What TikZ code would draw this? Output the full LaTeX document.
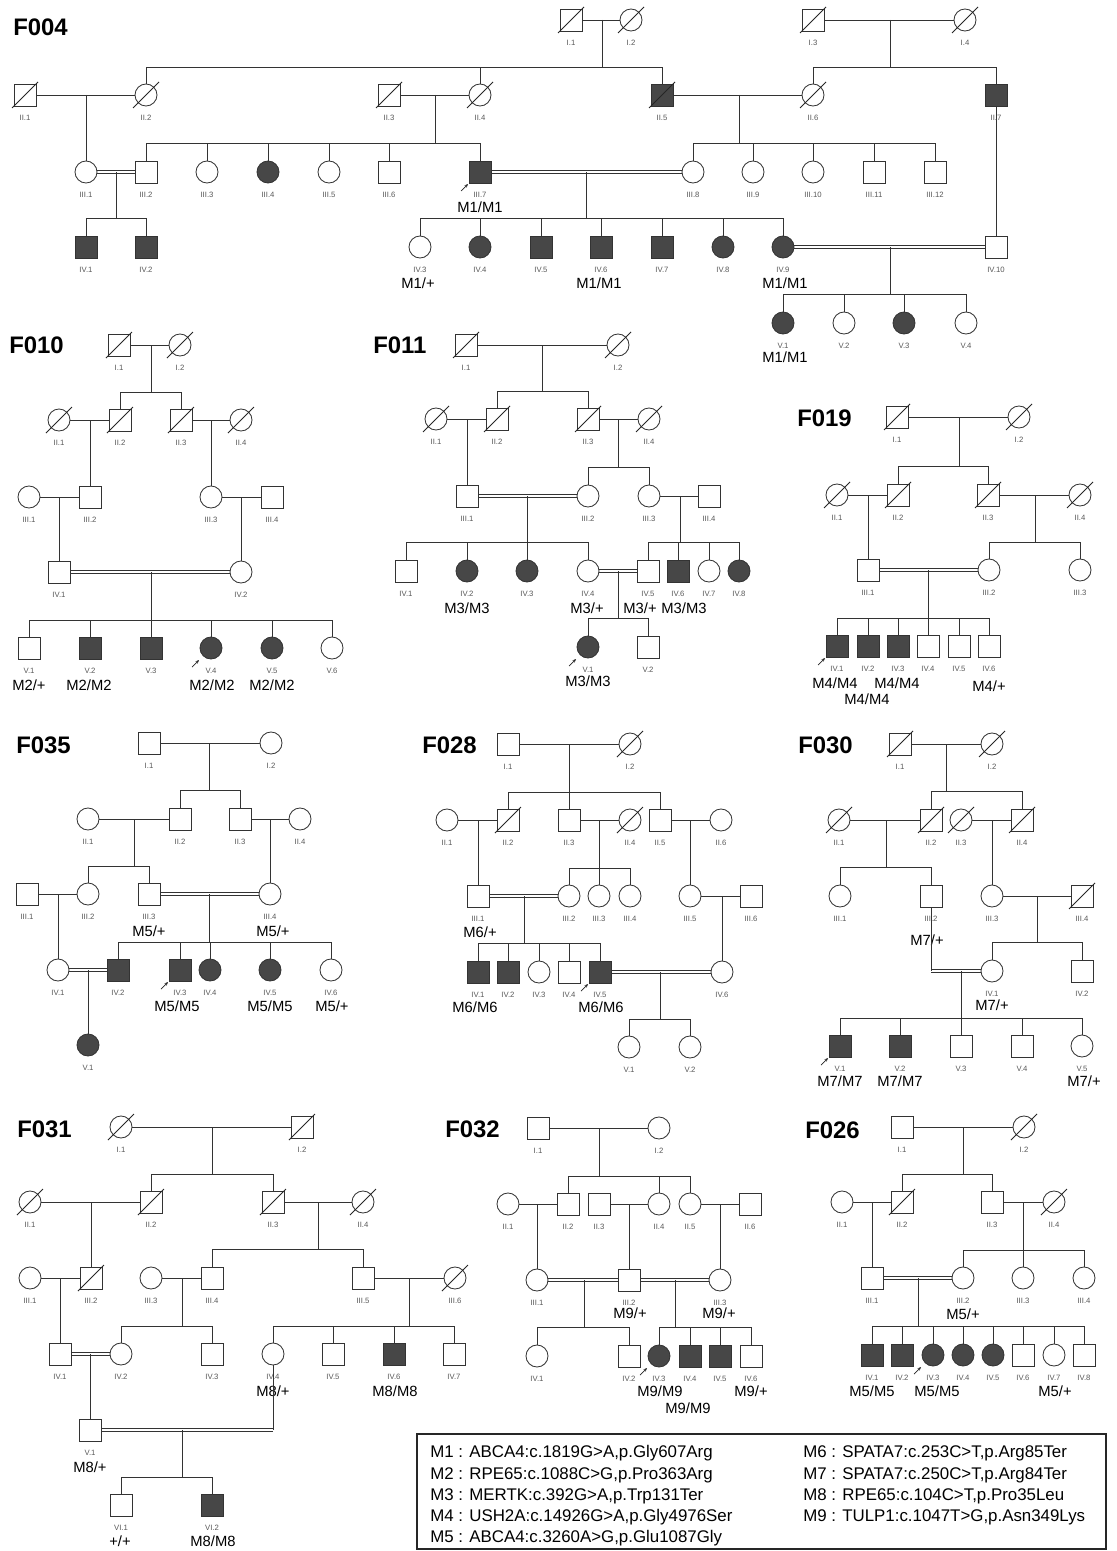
\documentclass[tikz,border=0pt]{standalone}
\usepackage{fontspec}
\setmainfont{Liberation Sans}
\usetikzlibrary{arrows.meta}
\tikzset{
  male/.style={draw=black!80, line width=0.6pt, rectangle, minimum size=0.55cm, inner sep=0pt, fill=white},
  female/.style={draw=black!80, line width=0.6pt, circle, minimum size=0.55cm, inner sep=0pt, fill=white},
  aff/.style={fill=black!72},
  rel/.style={draw=black!80, line width=0.6pt},
  dbl/.style={draw=black!80, line width=0.5pt},
  slash/.style={draw=black!85, line width=0.6pt},
  proband/.style={draw=black!85, line width=0.5pt, -{Stealth[length=2.6pt,width=2.2pt]}},
  geno/.style={font=\fontsize{10.5}{12}\selectfont, inner sep=0pt},
  fam/.style={font=\fontsize{17}{20}\selectfont\bfseries, inner sep=0pt, anchor=west},
  leg/.style={font=\fontsize{12}{14}\selectfont, inner sep=0pt, anchor=west},
  every label/.style={font=\fontsize{5.5}{6}\selectfont, text=black!65, inner sep=0pt}
}
\begin{document}
\begin{tikzpicture}[x=0.025cm, y=-0.025cm, label distance=5.8pt]
    \fill[white] (0,0) rectangle (1117,1551);
    \useasboundingbox (0,0) rectangle (1117,1551);

    % F004
    \node[fam] (t4) at (13,27) {F004};
    \node[male, label=below:I.1] (f4-1-1) at (571,20) {};
    \node[female, label=below:I.2] (f4-1-2) at (631,20) {};
    \node[male, label=below:I.3] (f4-1-3) at (813,20) {};
    \node[female, label=below:I.4] (f4-1-4) at (965,20) {};
    \node[male, label=below:II.1] (f4-2-1) at (25,95) {};
    \node[female, label=below:II.2] (f4-2-2) at (146,95) {};
    \node[male, label=below:II.3] (f4-2-3) at (389,95) {};
    \node[female, label=below:II.4] (f4-2-4) at (480,95) {};
    \node[male, aff, label=below:II.5] (f4-2-5) at (662,95) {};
    \node[female, label=below:II.6] (f4-2-6) at (813,95) {};
    \node[male, aff, label=below:II.7] (f4-2-7) at (996,95) {};
    \node[female, label=below:III.1] (f4-3-1) at (86,172) {};
    \node[male, label=below:III.2] (f4-3-2) at (146,172) {};
    \node[female, label=below:III.3] (f4-3-3) at (207,172) {};
    \node[female, aff, label=below:III.4] (f4-3-4) at (268,172) {};
    \node[female, label=below:III.5] (f4-3-5) at (329,172) {};
    \node[male, label=below:III.6] (f4-3-6) at (389,172) {};
    \node[male, aff, label=below:III.7] (f4-3-7) at (480,172) {};
    \node[female, label=below:III.8] (f4-3-8) at (693,172) {};
    \node[female, label=below:III.9] (f4-3-9) at (753,172) {};
    \node[female, label=below:III.10] (f4-3-10) at (813,172) {};
    \node[male, label=below:III.11] (f4-3-11) at (874,172) {};
    \node[male, label=below:III.12] (f4-3-12) at (935,172) {};
    \node[male, aff, label=below:IV.1] (f4-4-1) at (86,247) {};
    \node[male, aff, label=below:IV.2] (f4-4-2) at (146,247) {};
    \node[female, label=below:IV.3] (f4-4-3) at (420,247) {};
    \node[female, aff, label=below:IV.4] (f4-4-4) at (480,247) {};
    \node[male, aff, label=below:IV.5] (f4-4-5) at (541,247) {};
    \node[male, aff, label=below:IV.6] (f4-4-6) at (601,247) {};
    \node[male, aff, label=below:IV.7] (f4-4-7) at (662,247) {};
    \node[female, aff, label=below:IV.8] (f4-4-8) at (723,247) {};
    \node[female, aff, label=below:IV.9] (f4-4-9) at (783,247) {};
    \node[male, label=below:IV.10] (f4-4-10) at (996,247) {};
    \node[female, aff, label=below:V.1] (f4-5-1) at (783,323) {};
    \node[female, label=below:V.2] (f4-5-2) at (844,323) {};
    \node[female, aff, label=below:V.3] (f4-5-3) at (904,323) {};
    \node[female, label=below:V.4] (f4-5-4) at (966,323) {};
    \node[geno] (g4a) at (480,207) {M1/M1};
    \node[geno] (g4b) at (418,283) {M1/+};
    \node[geno] (g4c) at (599,283) {M1/M1};
    \node[geno] (g4d) at (785,283) {M1/M1};
    \node[geno] (g4e) at (785,357) {M1/M1};
    \coordinate (f4u1) at (602,20);  \coordinate (f4s1) at (602,67);
    \coordinate (f4u2) at (890,20);  \coordinate (f4s2) at (890,67);
    \coordinate (f4u3) at (86,95);
    \coordinate (f4u4) at (435,95);  \coordinate (f4s4) at (435,143);
    \coordinate (f4u5) at (739,95);  \coordinate (f4s5) at (739,143);
    \coordinate (f4u6) at (116,172); \coordinate (f4s6) at (116,218);
    \coordinate (f4u7) at (586,172); \coordinate (f4s7) at (586,218);
    \coordinate (f4u8) at (890,247); \coordinate (f4s8) at (890,294);
    \draw[rel] (f4-1-1) -- (f4-1-2);
    \draw[rel] (f4-1-3) -- (f4-1-4);
    \draw[rel] (f4-2-1) -- (f4-2-2);
    \draw[rel] (f4-2-3) -- (f4-2-4);
    \draw[rel] (f4-2-5) -- (f4-2-6);
    \foreach \o in {-0.9pt,0.9pt} {
        \draw[dbl] ([yshift=\o]f4-3-1.east) -- ([yshift=\o]f4-3-2.west);
        \draw[dbl] ([yshift=\o]f4-3-7.east) -- ([yshift=\o]f4-3-8.west);
        \draw[dbl] ([yshift=\o]f4-4-9.east) -- ([yshift=\o]f4-4-10.west);
    }
    \draw[rel] (f4u1) -- (f4s1);
    \draw[rel] (f4u2) -- (f4s2);
    \draw[rel] (f4u3) -- (f4-3-1);
    \draw[rel] (f4u4) -- (f4s4);
    \draw[rel] (f4u5) -- (f4s5);
    \draw[rel] (f4u6) -- (f4s6);
    \draw[rel] (f4u7) -- (f4s7);
    \draw[rel] (f4u8) -- (f4s8);
    \draw[rel] (f4-2-7) -- (f4-4-10);
    \foreach \c in {f4-2-2,f4-2-4,f4-2-5} \draw[rel] (\c.north) |- (f4s1);
    \foreach \c in {f4-2-6,f4-2-7} \draw[rel] (\c.north) |- (f4s2);
    \foreach \c in {f4-3-2,f4-3-3,f4-3-4,f4-3-5,f4-3-6,f4-3-7} \draw[rel] (\c.north) |- (f4s4);
    \foreach \c in {f4-3-8,f4-3-9,f4-3-10,f4-3-11,f4-3-12} \draw[rel] (\c.north) |- (f4s5);
    \foreach \c in {f4-4-1,f4-4-2} \draw[rel] (\c.north) |- (f4s6);
    \foreach \c in {f4-4-3,f4-4-4,f4-4-5,f4-4-6,f4-4-7,f4-4-8,f4-4-9} \draw[rel] (\c.north) |- (f4s7);
    \foreach \c in {f4-5-1,f4-5-2,f4-5-3,f4-5-4} \draw[rel] (\c.north) |- (f4s8);

    % F010
    \node[fam] (t10) at (9,345) {F010};
    \node[male, label=below:I.1] (f10-1-1) at (119,345) {};
    \node[female, label=below:I.2] (f10-1-2) at (180,345) {};
    \node[female, label=below:II.1] (f10-2-1) at (59,420) {};
    \node[male, label=below:II.2] (f10-2-2) at (120,420) {};
    \node[male, label=below:II.3] (f10-2-3) at (181,420) {};
    \node[female, label=below:II.4] (f10-2-4) at (241,420) {};
    \node[female, label=below:III.1] (f10-3-1) at (29,497) {};
    \node[male, label=below:III.2] (f10-3-2) at (90,497) {};
    \node[female, label=below:III.3] (f10-3-3) at (211,497) {};
    \node[male, label=below:III.4] (f10-3-4) at (272,497) {};
    \node[male, label=below:IV.1] (f10-4-1) at (59,572) {};
    \node[female, label=below:IV.2] (f10-4-2) at (241,572) {};
    \node[male, label=below:V.1] (f10-5-1) at (29,648) {};
    \node[male, aff, label=below:V.2] (f10-5-2) at (90,648) {};
    \node[male, aff, label=below:V.3] (f10-5-3) at (151,648) {};
    \node[female, aff, label=below:V.4] (f10-5-4) at (211,648) {};
    \node[female, aff, label=below:V.5] (f10-5-5) at (272,648) {};
    \node[female, label=below:V.6] (f10-5-6) at (332,648) {};
    \node[geno] (g10a) at (29,685) {M2/+};
    \node[geno] (g10b) at (89,685) {M2/M2};
    \node[geno] (g10c) at (212,685) {M2/M2};
    \node[geno] (g10d) at (272,685) {M2/M2};
    \coordinate (f10u1) at (151,345); \coordinate (f10s1) at (151,392);
    \coordinate (f10u2) at (90,420);
    \coordinate (f10u3) at (211,420);
    \coordinate (f10u4) at (59,497);
    \coordinate (f10u5) at (241,497);
    \coordinate (f10u6) at (151,572); \coordinate (f10s6) at (151,620);
    \draw[rel] (f10-1-1) -- (f10-1-2);
    \draw[rel] (f10-2-1) -- (f10-2-2);
    \draw[rel] (f10-2-3) -- (f10-2-4);
    \draw[rel] (f10-3-1) -- (f10-3-2);
    \draw[rel] (f10-3-3) -- (f10-3-4);
    \foreach \o in {-0.9pt,0.9pt}
        \draw[dbl] ([yshift=\o]f10-4-1.east) -- ([yshift=\o]f10-4-2.west);
    \draw[rel] (f10u1) -- (f10s1);
    \draw[rel] (f10u2) -- (f10-3-2);
    \draw[rel] (f10u3) -- (f10-3-3);
    \draw[rel] (f10u4) -- (f10-4-1);
    \draw[rel] (f10u5) -- (f10-4-2);
    \draw[rel] (f10u6) -- (f10s6);
    \foreach \c in {f10-2-2,f10-2-3} \draw[rel] (\c.north) |- (f10s1);
    \foreach \c in {f10-5-1,f10-5-2,f10-5-3,f10-5-4,f10-5-5,f10-5-6} \draw[rel] (\c.north) |- (f10s6);

    % F011
    \node[fam] (t11) at (373,345) {F011};
    \node[male, label=below:I.1] (f11-1-1) at (466,345) {};
    \node[female, label=below:I.2] (f11-1-2) at (618,345) {};
    \node[female, label=below:II.1] (f11-2-1) at (436,419) {};
    \node[male, label=below:II.2] (f11-2-2) at (497,419) {};
    \node[male, label=below:II.3] (f11-2-3) at (588,419) {};
    \node[female, label=below:II.4] (f11-2-4) at (649,419) {};
    \node[male, label=below:III.1] (f11-3-1) at (467,496) {};
    \node[female, label=below:III.2] (f11-3-2) at (588,496) {};
    \node[female, label=below:III.3] (f11-3-3) at (649,496) {};
    \node[male, label=below:III.4] (f11-3-4) at (709,496) {};
    \node[male, label=below:IV.1] (f11-4-1) at (406,571) {};
    \node[female, aff, label=below:IV.2] (f11-4-2) at (467,571) {};
    \node[female, aff, label=below:IV.3] (f11-4-3) at (527,571) {};
    \node[female, label=below:IV.4] (f11-4-4) at (588,571) {};
    \node[male, label=below:IV.5] (f11-4-5) at (648,571) {};
    \node[male, aff, label=below:IV.6] (f11-4-6) at (678,571) {};
    \node[female, label=below:IV.7] (f11-4-7) at (709,571) {};
    \node[female, aff, label=below:IV.8] (f11-4-8) at (739,571) {};
    \node[female, aff, label=below:V.1] (f11-5-1) at (588,647) {};
    \node[male, label=below:V.2] (f11-5-2) at (648,647) {};
    \node[geno] (g11a) at (467,608) {M3/M3};
    \node[geno] (g11b) at (587,608) {M3/+};
    \node[geno] (g11c) at (640,608) {M3/+};
    \node[geno] (g11d) at (684,608) {M3/M3};
    \node[geno] (g11e) at (588,681) {M3/M3};
    \coordinate (f11u1) at (542,345); \coordinate (f11s1) at (542,391);
    \coordinate (f11u2) at (467,419);
    \coordinate (f11u3) at (618,419); \coordinate (f11s3) at (618,467);
    \coordinate (f11u4) at (527,496); \coordinate (f11s4) at (527,542);
    \coordinate (f11u5) at (680,496); \coordinate (f11s5) at (680,542);
    \coordinate (f11u6) at (618,571); \coordinate (f11s6) at (618,618);
    \draw[rel] (f11-1-1) -- (f11-1-2);
    \draw[rel] (f11-2-1) -- (f11-2-2);
    \draw[rel] (f11-2-3) -- (f11-2-4);
    \draw[rel] (f11-3-3) -- (f11-3-4);
    \foreach \o in {-0.9pt,0.9pt} {
        \draw[dbl] ([yshift=\o]f11-3-1.east) -- ([yshift=\o]f11-3-2.west);
        \draw[dbl] ([yshift=\o]f11-4-4.east) -- ([yshift=\o]f11-4-5.west);
    }
    \draw[rel] (f11u1) -- (f11s1);
    \draw[rel] (f11u2) -- (f11-3-1);
    \draw[rel] (f11u3) -- (f11s3);
    \draw[rel] (f11u4) -- (f11s4);
    \draw[rel] (f11u5) -- (f11s5);
    \draw[rel] (f11u6) -- (f11s6);
    \foreach \c in {f11-2-2,f11-2-3} \draw[rel] (\c.north) |- (f11s1);
    \foreach \c in {f11-3-2,f11-3-3} \draw[rel] (\c.north) |- (f11s3);
    \foreach \c in {f11-4-1,f11-4-2,f11-4-3,f11-4-4} \draw[rel] (\c.north) |- (f11s4);
    \foreach \c in {f11-4-5,f11-4-6,f11-4-7,f11-4-8} \draw[rel] (\c.north) |- (f11s5);
    \foreach \c in {f11-5-1,f11-5-2} \draw[rel] (\c.north) |- (f11s6);

    % F019
    \node[fam] (t19) at (797,418) {F019};
    \node[male, label=below:I.1] (f19-1-1) at (897,417) {};
    \node[female, label=below:I.2] (f19-1-2) at (1019,417) {};
    \node[female, label=below:II.1] (f19-2-1) at (837,495) {};
    \node[male, label=below:II.2] (f19-2-2) at (898,495) {};
    \node[male, label=below:II.3] (f19-2-3) at (988,495) {};
    \node[female, label=below:II.4] (f19-2-4) at (1080,495) {};
    \node[male, label=below:III.1] (f19-3-1) at (868,570) {};
    \node[female, label=below:III.2] (f19-3-2) at (989,570) {};
    \node[female, label=below:III.3] (f19-3-3) at (1080,570) {};
    \node[male, aff, label=below:IV.1] (f19-4-1) at (837,646) {};
    \node[male, aff, label=below:IV.2] (f19-4-2) at (868,646) {};
    \node[male, aff, label=below:IV.3] (f19-4-3) at (898,646) {};
    \node[male, label=below:IV.4] (f19-4-4) at (928,646) {};
    \node[male, label=below:IV.5] (f19-4-5) at (959,646) {};
    \node[male, label=below:IV.6] (f19-4-6) at (989,646) {};
    \node[geno] (g19a) at (835,683) {M4/M4};
    \node[geno] (g19b) at (867,699) {M4/M4};
    \node[geno] (g19c) at (897,683) {M4/M4};
    \node[geno] (g19d) at (989,686) {M4/+};
    \coordinate (f19u1) at (959,417); \coordinate (f19s1) at (959,466);
    \coordinate (f19u2) at (868,495);
    \coordinate (f19u3) at (1035,495); \coordinate (f19s3) at (1035,542);
    \coordinate (f19u4) at (928,570); \coordinate (f19s4) at (928,618);
    \draw[rel] (f19-1-1) -- (f19-1-2);
    \draw[rel] (f19-2-1) -- (f19-2-2);
    \draw[rel] (f19-2-3) -- (f19-2-4);
    \foreach \o in {-0.9pt,0.9pt}
        \draw[dbl] ([yshift=\o]f19-3-1.east) -- ([yshift=\o]f19-3-2.west);
    \draw[rel] (f19u1) -- (f19s1);
    \draw[rel] (f19u2) -- (f19-3-1);
    \draw[rel] (f19u3) -- (f19s3);
    \draw[rel] (f19u4) -- (f19s4);
    \foreach \c in {f19-2-2,f19-2-3} \draw[rel] (\c.north) |- (f19s1);
    \foreach \c in {f19-3-2,f19-3-3} \draw[rel] (\c.north) |- (f19s3);
    \foreach \c in {f19-4-1,f19-4-2,f19-4-3,f19-4-4,f19-4-5,f19-4-6} \draw[rel] (\c.north) |- (f19s4);

    % F035
    \node[fam] (t35) at (16,745) {F035};
    \node[male, label=below:I.1] (f35-1-1) at (149,743) {};
    \node[female, label=below:I.2] (f35-1-2) at (271,743) {};
    \node[female, label=below:II.1] (f35-2-1) at (88,819) {};
    \node[male, label=below:II.2] (f35-2-2) at (180,819) {};
    \node[male, label=below:II.3] (f35-2-3) at (240,819) {};
    \node[female, label=below:II.4] (f35-2-4) at (300,819) {};
    \node[male, label=below:III.1] (f35-3-1) at (27,894) {};
    \node[female, label=below:III.2] (f35-3-2) at (88,894) {};
    \node[male, label=below:III.3] (f35-3-3) at (149,894) {};
    \node[female, label=below:III.4] (f35-3-4) at (270,894) {};
    \node[female, label=below:IV.1] (f35-4-1) at (58,970) {};
    \node[male, aff, label=below:IV.2] (f35-4-2) at (118,970) {};
    \node[male, aff, label=below:IV.3] (f35-4-3) at (180,970) {};
    \node[female, aff, label=below:IV.4] (f35-4-4) at (210,970) {};
    \node[female, aff, label=below:IV.5] (f35-4-5) at (270,970) {};
    \node[female, label=below:IV.6] (f35-4-6) at (331,970) {};
    \node[female, aff, label=below:V.1] (f35-5-1) at (88,1045) {};
    \node[geno] (g35a) at (149,931) {M5/+};
    \node[geno] (g35b) at (273,931) {M5/+};
    \node[geno] (g35c) at (177,1006) {M5/M5};
    \node[geno] (g35d) at (270,1006) {M5/M5};
    \node[geno] (g35e) at (332,1006) {M5/+};
    \coordinate (f35u1) at (209,743); \coordinate (f35s1) at (209,790);
    \coordinate (f35u2) at (134,819); \coordinate (f35s2) at (134,866);
    \coordinate (f35u3) at (270,819);
    \coordinate (f35u4) at (58,894);
    \coordinate (f35u5) at (209,894); \coordinate (f35s5) at (209,942);
    \coordinate (f35u6) at (88,970);
    \draw[rel] (f35-1-1) -- (f35-1-2);
    \draw[rel] (f35-2-1) -- (f35-2-2);
    \draw[rel] (f35-2-3) -- (f35-2-4);
    \draw[rel] (f35-3-1) -- (f35-3-2);
    \foreach \o in {-0.9pt,0.9pt} {
        \draw[dbl] ([yshift=\o]f35-3-3.east) -- ([yshift=\o]f35-3-4.west);
        \draw[dbl] ([yshift=\o]f35-4-1.east) -- ([yshift=\o]f35-4-2.west);
    }
    \draw[rel] (f35u1) -- (f35s1);
    \draw[rel] (f35u2) -- (f35s2);
    \draw[rel] (f35u3) -- (f35-3-4);
    \draw[rel] (f35u4) -- (f35-4-1);
    \draw[rel] (f35u5) -- (f35s5);
    \draw[rel] (f35u6) -- (f35-5-1);
    \foreach \c in {f35-2-2,f35-2-3} \draw[rel] (\c.north) |- (f35s1);
    \foreach \c in {f35-3-2,f35-3-3} \draw[rel] (\c.north) |- (f35s2);
    \foreach \c in {f35-4-2,f35-4-3,f35-4-4,f35-4-5,f35-4-6} \draw[rel] (\c.north) |- (f35s5);

    % F028
    \node[fam] (t28) at (422,745) {F028};
    \node[male, label=below:I.1] (f28-1-1) at (508,744) {};
    \node[female, label=below:I.2] (f28-1-2) at (630,744) {};
    \node[female, label=below:II.1] (f28-2-1) at (447,820) {};
    \node[male, label=below:II.2] (f28-2-2) at (508,820) {};
    \node[male, label=below:II.3] (f28-2-3) at (569,820) {};
    \node[female, label=below:II.4] (f28-2-4) at (630,820) {};
    \node[male, label=below:II.5] (f28-2-5) at (660,820) {};
    \node[female, label=below:II.6] (f28-2-6) at (721,820) {};
    \node[male, label=below:III.1] (f28-3-1) at (478,896) {};
    \node[female, label=below:III.2] (f28-3-2) at (569,896) {};
    \node[female, label=below:III.3] (f28-3-3) at (599,896) {};
    \node[female, label=below:III.4] (f28-3-4) at (630,896) {};
    \node[female, label=below:III.5] (f28-3-5) at (690,896) {};
    \node[male, label=below:III.6] (f28-3-6) at (751,896) {};
    \node[male, aff, label=below:IV.1] (f28-4-1) at (478,972) {};
    \node[male, aff, label=below:IV.2] (f28-4-2) at (508,972) {};
    \node[female, label=below:IV.3] (f28-4-3) at (539,972) {};
    \node[male, label=below:IV.4] (f28-4-4) at (569,972) {};
    \node[male, aff, label=below:IV.5] (f28-4-5) at (600,972) {};
    \node[female, label=below:IV.6] (f28-4-6) at (722,972) {};
    \node[female, label=below:V.1] (f28-5-1) at (629,1047) {};
    \node[female, label=below:V.2] (f28-5-2) at (690,1047) {};
    \node[geno] (g28a) at (480,932) {M6/+};
    \node[geno] (g28b) at (475,1007) {M6/M6};
    \node[geno] (g28c) at (601,1007) {M6/M6};
    \coordinate (f28u1) at (569,744); \coordinate (f28s1) at (569,792);
    \coordinate (f28u2) at (478,820);
    \coordinate (f28u3) at (599,820); \coordinate (f28s3) at (599,868);
    \coordinate (f28u4) at (690,820);
    \coordinate (f28u5) at (524,896); \coordinate (f28s5) at (524,943);
    \coordinate (f28u6) at (722,896);
    \coordinate (f28u7) at (660,972); \coordinate (f28s7) at (660,1019);
    \draw[rel] (f28-1-1) -- (f28-1-2);
    \draw[rel] (f28-2-1) -- (f28-2-2);
    \draw[rel] (f28-2-3) -- (f28-2-4);
    \draw[rel] (f28-2-5) -- (f28-2-6);
    \draw[rel] (f28-3-5) -- (f28-3-6);
    \foreach \o in {-0.9pt,0.9pt} {
        \draw[dbl] ([yshift=\o]f28-3-1.east) -- ([yshift=\o]f28-3-2.west);
        \draw[dbl] ([yshift=\o]f28-4-5.east) -- ([yshift=\o]f28-4-6.west);
    }
    \draw[rel] (f28u1) -- (f28s1);
    \draw[rel] (f28u2) -- (f28-3-1);
    \draw[rel] (f28u3) -- (f28s3);
    \draw[rel] (f28u4) -- (f28-3-5);
    \draw[rel] (f28u5) -- (f28s5);
    \draw[rel] (f28u6) -- (f28-4-6);
    \draw[rel] (f28u7) -- (f28s7);
    \foreach \c in {f28-2-2,f28-2-3,f28-2-5} \draw[rel] (\c.north) |- (f28s1);
    \foreach \c in {f28-3-2,f28-3-3,f28-3-4} \draw[rel] (\c.north) |- (f28s3);
    \foreach \c in {f28-4-1,f28-4-2,f28-4-3,f28-4-4,f28-4-5} \draw[rel] (\c.north) |- (f28s5);
    \foreach \c in {f28-5-1,f28-5-2} \draw[rel] (\c.north) |- (f28s7);

    % F030
    \node[fam] (t30) at (798,745) {F030};
    \node[male, label=below:I.1] (f30-1-1) at (900,744) {};
    \node[female, label=below:I.2] (f30-1-2) at (992,744) {};
    \node[female, label=below:II.1] (f30-2-1) at (839,820) {};
    \node[male, label=below:II.2] (f30-2-2) at (931,820) {};
    \node[female, label=below:II.3] (f30-2-3) at (961,820) {};
    \node[male, label=below:II.4] (f30-2-4) at (1022,820) {};
    \node[female, label=below:III.1] (f30-3-1) at (840,896) {};
    \node[male, label=below:III.2] (f30-3-2) at (931,896) {};
    \node[female, label=below:III.3] (f30-3-3) at (992,896) {};
    \node[male, label=below:III.4] (f30-3-4) at (1082,896) {};
    \node[female, label=below:IV.1] (f30-4-1) at (992,971) {};
    \node[male, label=below:IV.2] (f30-4-2) at (1082,971) {};
    \node[male, aff, label=below:V.1] (f30-5-1) at (840,1046) {};
    \node[male, aff, label=below:V.2] (f30-5-2) at (900,1046) {};
    \node[male, label=below:V.3] (f30-5-3) at (961,1046) {};
    \node[male, label=below:V.4] (f30-5-4) at (1022,1046) {};
    \node[female, label=below:V.5] (f30-5-5) at (1082,1046) {};
    \node[geno] (g30a) at (927,940) {M7/+};
    \node[geno] (g30b) at (992,1005) {M7/+};
    \node[geno] (g30c) at (840,1081) {M7/M7};
    \node[geno] (g30d) at (900,1081) {M7/M7};
    \node[geno] (g30e) at (1084,1081) {M7/+};
    \coordinate (f30u1) at (946,744); \coordinate (f30s1) at (946,791);
    \coordinate (f30u2) at (886,820); \coordinate (f30s2) at (886,867);
    \coordinate (f30u3) at (992,820);
    \coordinate (f30u4) at (1037,896); \coordinate (f30s4) at (1037,942);
    \coordinate (f30u5) at (961,971); \coordinate (f30s5) at (961,1018);
    \coordinate (f30k) at (931,971);
    \draw[rel] (f30-1-1) -- (f30-1-2);
    \draw[rel] (f30-2-1) -- (f30-2-2);
    \draw[rel] (f30-2-3) -- (f30-2-4);
    \draw[rel] (f30-3-3) -- (f30-3-4);
    \draw[rel] (f30-3-2.south) -- (f30k);
    \foreach \o in {-0.9pt,0.9pt}
        \draw[dbl] ([yshift=\o]f30k) -- ([yshift=\o]f30-4-1.west);
    \draw[rel] (f30u1) -- (f30s1);
    \draw[rel] (f30u2) -- (f30s2);
    \draw[rel] (f30u3) -- (f30-3-3);
    \draw[rel] (f30u4) -- (f30s4);
    \draw[rel] (f30u5) -- (f30s5);
    \foreach \c in {f30-2-2,f30-2-4} \draw[rel] (\c.north) |- (f30s1);
    \foreach \c in {f30-3-1,f30-3-2} \draw[rel] (\c.north) |- (f30s2);
    \foreach \c in {f30-4-1,f30-4-2} \draw[rel] (\c.north) |- (f30s4);
    \foreach \c in {f30-5-1,f30-5-2,f30-5-3,f30-5-4,f30-5-5} \draw[rel] (\c.north) |- (f30s5);

    % F031
    \node[fam] (t31) at (17,1129) {F031};
    \node[female, label=below:I.1] (f31-1-1) at (121,1127) {};
    \node[male, label=below:I.2] (f31-1-2) at (302,1127) {};
    \node[female, label=below:II.1] (f31-2-1) at (30,1202) {};
    \node[male, label=below:II.2] (f31-2-2) at (151,1202) {};
    \node[male, label=below:II.3] (f31-2-3) at (273,1202) {};
    \node[female, label=below:II.4] (f31-2-4) at (363,1202) {};
    \node[female, label=below:III.1] (f31-3-1) at (30,1278) {};
    \node[male, label=below:III.2] (f31-3-2) at (91,1278) {};
    \node[female, label=below:III.3] (f31-3-3) at (151,1278) {};
    \node[male, label=below:III.4] (f31-3-4) at (212,1278) {};
    \node[male, label=below:III.5] (f31-3-5) at (363,1278) {};
    \node[female, label=below:III.6] (f31-3-6) at (455,1278) {};
    \node[male, label=below:IV.1] (f31-4-1) at (60,1354) {};
    \node[female, label=below:IV.2] (f31-4-2) at (121,1354) {};
    \node[male, label=below:IV.3] (f31-4-3) at (212,1354) {};
    \node[female, label=below:IV.4] (f31-4-4) at (273,1354) {};
    \node[male, label=below:IV.5] (f31-4-5) at (333,1354) {};
    \node[male, aff, label=below:IV.6] (f31-4-6) at (394,1354) {};
    \node[male, label=below:IV.7] (f31-4-7) at (454,1354) {};
    \node[male, label=below:V.1] (f31-5-1) at (90,1430) {};
    \node[male, label=below:VI.1] (f31-6-1) at (121,1505) {};
    \node[male, aff, label=below:VI.2] (f31-6-2) at (212,1505) {};
    \node[geno] (g31a) at (273,1391) {M8/+};
    \node[geno] (g31b) at (395,1391) {M8/M8};
    \node[geno] (g31c) at (90,1467) {M8/+};
    \node[geno] (g31d) at (120,1541) {+/+};
    \node[geno] (g31e) at (213,1541) {M8/M8};
    \coordinate (f31u1) at (212,1127); \coordinate (f31s1) at (212,1174);
    \coordinate (f31u2) at (91,1202);
    \coordinate (f31u3) at (318,1202); \coordinate (f31s3) at (318,1249);
    \coordinate (f31u4) at (60,1278);
    \coordinate (f31u5) at (182,1278); \coordinate (f31s5) at (182,1326);
    \coordinate (f31u6) at (409,1278); \coordinate (f31s6) at (409,1326);
    \coordinate (f31u7) at (90,1354);
    \coordinate (f31u8) at (182,1430); \coordinate (f31s8) at (182,1477);
    \coordinate (f31k) at (273,1430);
    \draw[rel] (f31-1-1) -- (f31-1-2);
    \draw[rel] (f31-2-1) -- (f31-2-2);
    \draw[rel] (f31-2-3) -- (f31-2-4);
    \draw[rel] (f31-3-1) -- (f31-3-2);
    \draw[rel] (f31-3-3) -- (f31-3-4);
    \draw[rel] (f31-3-5) -- (f31-3-6);
    \draw[rel] (f31-4-4.south) -- (f31k);
    \foreach \o in {-0.9pt,0.9pt} {
        \draw[dbl] ([yshift=\o]f31-4-1.east) -- ([yshift=\o]f31-4-2.west);
        \draw[dbl] ([yshift=\o]f31-5-1.east) -- ([yshift=\o]f31k);
    }
    \draw[rel] (f31u1) -- (f31s1);
    \draw[rel] (f31u2) -- (f31-3-2);
    \draw[rel] (f31u3) -- (f31s3);
    \draw[rel] (f31u4) -- (f31-4-1);
    \draw[rel] (f31u5) -- (f31s5);
    \draw[rel] (f31u6) -- (f31s6);
    \draw[rel] (f31u7) -- (f31-5-1);
    \draw[rel] (f31u8) -- (f31s8);
    \foreach \c in {f31-2-2,f31-2-3} \draw[rel] (\c.north) |- (f31s1);
    \foreach \c in {f31-3-4,f31-3-5} \draw[rel] (\c.north) |- (f31s3);
    \foreach \c in {f31-4-2,f31-4-3} \draw[rel] (\c.north) |- (f31s5);
    \foreach \c in {f31-4-4,f31-4-5,f31-4-6,f31-4-7} \draw[rel] (\c.north) |- (f31s6);
    \foreach \c in {f31-6-1,f31-6-2} \draw[rel] (\c.north) |- (f31s8);

    % F032
    \node[fam] (t32) at (445,1129) {F032};
    \node[male, label=below:I.1] (f32-1-1) at (538,1128) {};
    \node[female, label=below:I.2] (f32-1-2) at (659,1128) {};
    \node[female, label=below:II.1] (f32-2-1) at (508,1204) {};
    \node[male, label=below:II.2] (f32-2-2) at (568,1204) {};
    \node[male, label=below:II.3] (f32-2-3) at (599,1204) {};
    \node[female, label=below:II.4] (f32-2-4) at (659,1204) {};
    \node[female, label=below:II.5] (f32-2-5) at (690,1204) {};
    \node[male, label=below:II.6] (f32-2-6) at (750,1204) {};
    \node[female, label=below:III.1] (f32-3-1) at (537,1280) {};
    \node[male, label=below:III.2] (f32-3-2) at (629,1280) {};
    \node[female, label=below:III.3] (f32-3-3) at (720,1280) {};
    \node[female, label=below:IV.1] (f32-4-1) at (537,1356) {};
    \node[male, label=below:IV.2] (f32-4-2) at (629,1356) {};
    \node[female, aff, label=below:IV.3] (f32-4-3) at (659,1356) {};
    \node[male, aff, label=below:IV.4] (f32-4-4) at (690,1356) {};
    \node[male, aff, label=below:IV.5] (f32-4-5) at (720,1356) {};
    \node[male, label=below:IV.6] (f32-4-6) at (751,1356) {};
    \node[geno] (g32a) at (630,1313) {M9/+};
    \node[geno] (g32b) at (719,1313) {M9/+};
    \node[geno] (g32c) at (660,1391) {M9/M9};
    \node[geno] (g32d) at (688,1408) {M9/M9};
    \node[geno] (g32e) at (751,1391) {M9/+};
    \coordinate (f32u1) at (599,1128); \coordinate (f32s1) at (599,1176);
    \coordinate (f32u2) at (537,1204);
    \coordinate (f32u3) at (629,1204);
    \coordinate (f32u4) at (720,1204);
    \coordinate (f32u5) at (584,1280); \coordinate (f32s5) at (584,1327);
    \coordinate (f32u6) at (675,1280); \coordinate (f32s6) at (675,1327);
    \draw[rel] (f32-1-1) -- (f32-1-2);
    \draw[rel] (f32-2-1) -- (f32-2-2);
    \draw[rel] (f32-2-3) -- (f32-2-4);
    \draw[rel] (f32-2-5) -- (f32-2-6);
    \foreach \o in {-0.9pt,0.9pt} {
        \draw[dbl] ([yshift=\o]f32-3-1.east) -- ([yshift=\o]f32-3-2.west);
        \draw[dbl] ([yshift=\o]f32-3-2.east) -- ([yshift=\o]f32-3-3.west);
    }
    \draw[rel] (f32u1) -- (f32s1);
    \draw[rel] (f32u2) -- (f32-3-1);
    \draw[rel] (f32u3) -- (f32-3-2);
    \draw[rel] (f32u4) -- (f32-3-3);
    \draw[rel] (f32u5) -- (f32s5);
    \draw[rel] (f32u6) -- (f32s6);
    \foreach \c in {f32-2-2,f32-2-4,f32-2-5} \draw[rel] (\c.north) |- (f32s1);
    \foreach \c in {f32-4-1,f32-4-2} \draw[rel] (\c.north) |- (f32s5);
    \foreach \c in {f32-4-3,f32-4-4,f32-4-5,f32-4-6} \draw[rel] (\c.north) |- (f32s6);

    % F026
    \node[fam] (t26) at (805,1130) {F026};
    \node[male, label=below:I.1] (f26-1-1) at (902,1127) {};
    \node[female, label=below:I.2] (f26-1-2) at (1024,1127) {};
    \node[female, label=below:II.1] (f26-2-1) at (842,1202) {};
    \node[male, label=below:II.2] (f26-2-2) at (902,1202) {};
    \node[male, label=below:II.3] (f26-2-3) at (992,1202) {};
    \node[female, label=below:II.4] (f26-2-4) at (1054,1202) {};
    \node[male, label=below:III.1] (f26-3-1) at (872,1278) {};
    \node[female, label=below:III.2] (f26-3-2) at (963,1278) {};
    \node[female, label=below:III.3] (f26-3-3) at (1023,1278) {};
    \node[female, label=below:III.4] (f26-3-4) at (1084,1278) {};
    \node[male, aff, label=below:IV.1] (f26-4-1) at (872,1355) {};
    \node[male, aff, label=below:IV.2] (f26-4-2) at (902,1355) {};
    \node[female, aff, label=below:IV.3] (f26-4-3) at (933,1355) {};
    \node[female, aff, label=below:IV.4] (f26-4-4) at (963,1355) {};
    \node[female, aff, label=below:IV.5] (f26-4-5) at (993,1355) {};
    \node[male, label=below:IV.6] (f26-4-6) at (1023,1355) {};
    \node[female, label=below:IV.7] (f26-4-7) at (1054,1355) {};
    \node[male, label=below:IV.8] (f26-4-8) at (1084,1355) {};
    \node[geno] (g26a) at (963,1314) {M5/+};
    \node[geno] (g26b) at (872,1391) {M5/M5};
    \node[geno] (g26c) at (937,1391) {M5/M5};
    \node[geno] (g26d) at (1055,1391) {M5/+};
    \coordinate (f26u1) at (963,1127); \coordinate (f26s1) at (963,1174);
    \coordinate (f26u2) at (872,1202);
    \coordinate (f26u3) at (1023,1202); \coordinate (f26s3) at (1023,1250);
    \coordinate (f26u4) at (918,1278); \coordinate (f26s4) at (918,1326);
    \draw[rel] (f26-1-1) -- (f26-1-2);
    \draw[rel] (f26-2-1) -- (f26-2-2);
    \draw[rel] (f26-2-3) -- (f26-2-4);
    \foreach \o in {-0.9pt,0.9pt}
        \draw[dbl] ([yshift=\o]f26-3-1.east) -- ([yshift=\o]f26-3-2.west);
    \draw[rel] (f26u1) -- (f26s1);
    \draw[rel] (f26u2) -- (f26-3-1);
    \draw[rel] (f26u3) -- (f26s3);
    \draw[rel] (f26u4) -- (f26s4);
    \foreach \c in {f26-2-2,f26-2-3} \draw[rel] (\c.north) |- (f26s1);
    \foreach \c in {f26-3-2,f26-3-3,f26-3-4} \draw[rel] (\c.north) |- (f26s3);
    \foreach \c in {f26-4-1,f26-4-2,f26-4-3,f26-4-4,f26-4-5,f26-4-6,f26-4-7,f26-4-8} \draw[rel] (\c.north) |- (f26s4);

    % Deceased and probands
    \foreach \n in {f4-1-1,f4-1-2,f4-1-3,f4-1-4,f4-2-1,f4-2-2,f4-2-3,f4-2-4,f4-2-5,f4-2-6,
                    f10-1-1,f10-1-2,f10-2-1,f10-2-2,f10-2-3,f10-2-4,
                    f11-1-1,f11-1-2,f11-2-1,f11-2-2,f11-2-3,f11-2-4,
                    f19-1-1,f19-1-2,f19-2-1,f19-2-2,f19-2-3,f19-2-4,
                    f28-1-2,f28-2-2,f28-2-4,
                    f30-1-1,f30-1-2,f30-2-1,f30-2-2,f30-2-3,f30-2-4,f30-3-4,
                    f31-1-1,f31-1-2,f31-2-1,f31-2-2,f31-2-3,f31-2-4,f31-3-2,f31-3-6,
                    f26-1-2,f26-2-2,f26-2-4}
        \draw[slash] ([shift={(-13,13)}]\n.center) -- ([shift={(13,-13)}]\n.center);
    \foreach \n in {f4-3-7,f10-5-4,f11-5-1,f19-4-1,f35-4-3,f28-4-5,f30-5-1,f32-4-3,f26-4-3}
        \draw[proband] ([shift={(-19,19)}]\n.center) -- ([shift={(-12,12)}]\n.center);

    % Legend
    \draw[line width=1.1pt, draw=black!85] (417,1434) rectangle (1106,1549);
    \node[leg] (m1) at (430,1453) {M1 : ABCA4:c.1819G>A,p.Gly607Arg};
    \node[leg] (m2) at (430,1475) {M2 : RPE65:c.1088C>G,p.Pro363Arg};
    \node[leg] (m3) at (430,1496) {M3 : MERTK:c.392G>A,p.Trp131Ter};
    \node[leg] (m4) at (430,1517) {M4 : USH2A:c.14926G>A,p.Gly4976Ser};
    \node[leg] (m5) at (430,1538) {M5 : ABCA4:c.3260A>G,p.Glu1087Gly};
    \node[leg] (m6) at (803,1453) {M6 : SPATA7:c.253C>T,p.Arg85Ter};
    \node[leg] (m7) at (803,1475) {M7 : SPATA7:c.250C>T,p.Arg84Ter};
    \node[leg] (m8) at (803,1496) {M8 : RPE65:c.104C>T,p.Pro35Leu};
    \node[leg] (m9) at (803,1517) {M9 : TULP1:c.1047T>G,p.Asn349Lys};
\end{tikzpicture}
\end{document}
